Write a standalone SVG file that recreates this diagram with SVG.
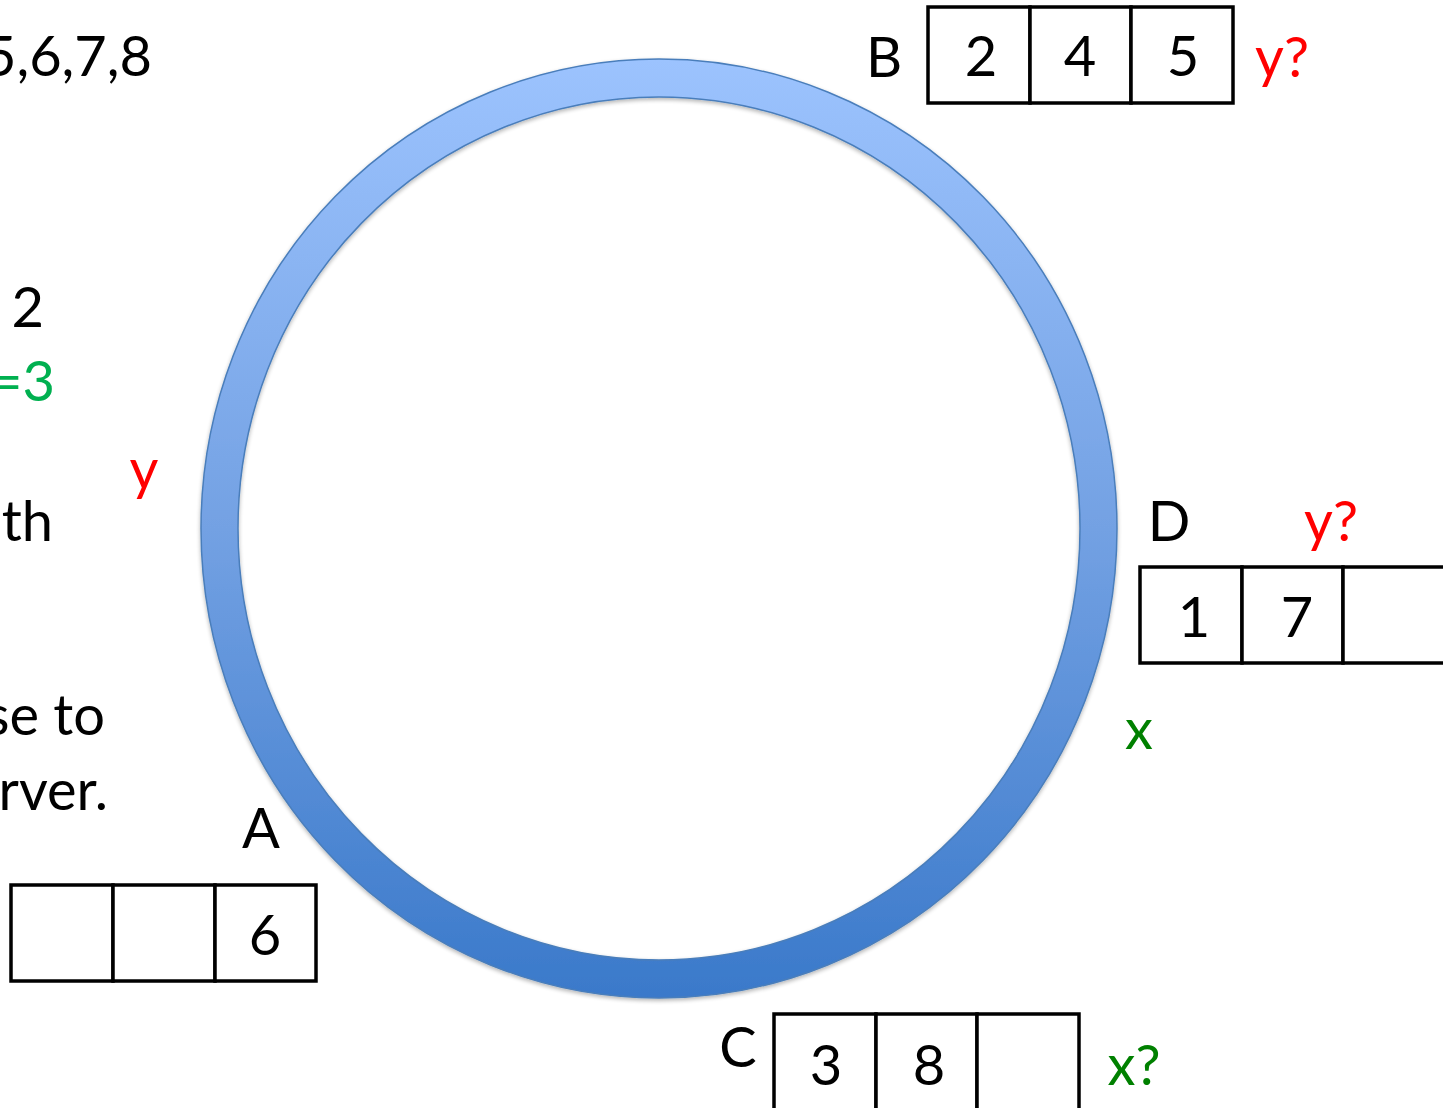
<svg xmlns="http://www.w3.org/2000/svg" width="1443" height="1108" viewBox="0 0 1443 1108">
<defs>
<linearGradient id="ring" x1="0" y1="59" x2="0" y2="998" gradientUnits="userSpaceOnUse">
<stop offset="0" stop-color="#9CC3FE"/>
<stop offset="0.5" stop-color="#73A1E3"/>
<stop offset="1" stop-color="#3A79CA"/>
</linearGradient>
<filter id="sh" x="-5%" y="-5%" width="110%" height="110%">
<feGaussianBlur in="SourceAlpha" stdDeviation="2"/>
<feOffset dx="0" dy="2"/>
<feComponentTransfer><feFuncA type="linear" slope="0.3"/></feComponentTransfer>
<feMerge><feMergeNode/><feMergeNode in="SourceGraphic"/></feMerge>
</filter>
</defs>
<style>
text{font-family:Lato,"Open Sans","Liberation Sans",sans-serif;font-size:56px;fill:#000}
.red{fill:#FF0000}
.grn{fill:#00B050}
.dg{fill:#008000}
.box{fill:#fff;stroke:#000;stroke-width:3.5}
.mid{text-anchor:middle}
.end{text-anchor:end}
</style>
<rect width="1443" height="1108" fill="#fff"/>
<g id="ring-node">
<path filter="url(#sh)" fill="url(#ring)" fill-rule="evenodd" stroke="#4A7EBB" stroke-width="1.5" d="M201,528.5 A458,469.5 0 1,0 1117,528.5 A458,469.5 0 1,0 201,528.5 Z M238,528.5 A421,431.5 0 1,1 1080,528.5 A421,431.5 0 1,1 238,528.5 Z"/>
</g>
<g id="left-text">
<text x="152" y="76" class="end">5,6,7,8</text>
<text x="44" y="327" class="end">2</text>
<text x="55" y="401" class="end grn">=3</text>
<text x="53" y="541" class="end">th</text>
<text x="105" y="735" class="end">se to</text>
<text x="108" y="810" class="end">rver.</text>
<text x="144" y="489" class="mid red">y</text>
</g>
<g id="node-A">
<text x="261" y="848" class="mid">A</text>
<rect class="box" x="11" y="885" width="102" height="96"/>
<rect class="box" x="113" y="885" width="102" height="96"/>
<rect class="box" x="215" y="885" width="101" height="96"/>
<text x="265" y="955" class="mid">6</text>
</g>
<g id="node-B">
<text x="884" y="77" class="mid">B</text>
<rect class="box" x="928" y="7" width="102" height="96"/>
<rect class="box" x="1030" y="7" width="101" height="96"/>
<rect class="box" x="1131" y="7" width="102" height="96"/>
<text x="981" y="76" class="mid">2</text>
<text x="1080" y="76" class="mid">4</text>
<text x="1183" y="76" class="mid">5</text>
<text x="1282" y="77" class="mid red">y?</text>
</g>
<g id="node-D">
<text x="1169" y="541" class="mid">D</text>
<text x="1331" y="541" class="mid red">y?</text>
<rect class="box" x="1140" y="567" width="102" height="96"/>
<rect class="box" x="1242" y="567" width="101" height="96"/>
<rect class="box" x="1343" y="567" width="102" height="96"/>
<text x="1194" y="637" class="mid">1</text>
<text x="1297" y="637" class="mid">7</text>
</g>
<g id="label-x">
<text x="1139" y="749" class="mid dg">x</text>
</g>
<g id="node-C">
<text x="738" y="1067" class="mid">C</text>
<rect class="box" x="774" y="1014" width="102" height="110"/>
<rect class="box" x="876" y="1014" width="101" height="110"/>
<rect class="box" x="977" y="1014" width="102" height="110"/>
<text x="826" y="1085" class="mid">3</text>
<text x="929" y="1085" class="mid">8</text>
<text x="1134" y="1085" class="mid dg">x?</text>
</g>
<g id="connectors"></g>
</svg>
